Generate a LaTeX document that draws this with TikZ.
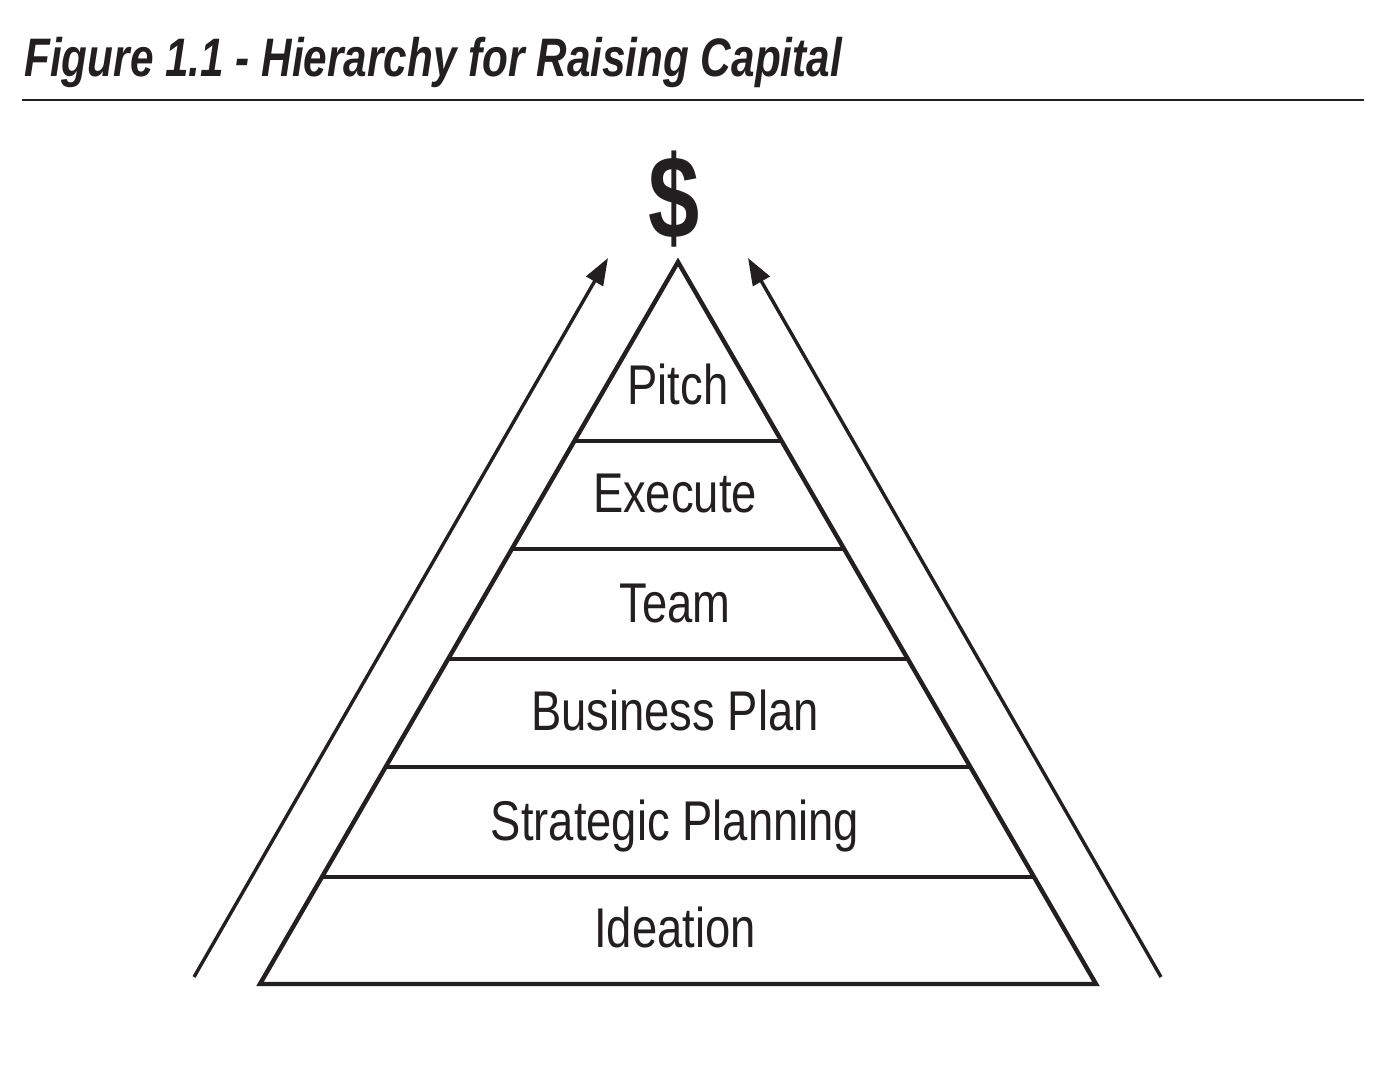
\documentclass[tikz,border=0pt]{standalone}
\usepackage{fontspec}
\setmainfont{Liberation Sans}
\newfontfamily\tierfont[FakeStretch=0.81]{Liberation Sans}
\newfontfamily\headfont[FakeStretch=0.78]{Liberation Sans}
\usetikzlibrary{arrows.meta,calc}
\definecolor{ink}{HTML}{231F20}
\tikzset{
  pyr/.style={draw=ink, line width=2.2pt, line join=miter},
  rung/.style={draw=ink, line width=2.2pt},
  rise/.style={draw=ink, line width=1.7pt, -{Triangle[length=13.5pt,width=9.5pt]}},
  tier/.style={font=\tierfont\fontsize{28}{30}\selectfont, text=ink, anchor=base, inner sep=0pt},
}
\begin{document}
\begin{tikzpicture}[x=0.5pt,y=-0.5pt]
	\useasboundingbox (0,0) rectangle (1388,1068);
	% title and rule
	\node[font=\headfont\bfseries\itshape\fontsize{27.1}{30}\selectfont, text=ink, anchor=base west, inner sep=0pt] (title) at (24,77) {Figure 1.1 - Hierarchy for Raising Capital};
	\coordinate (ruleL) at (22,100);
	\coordinate (ruleR) at (1364,100);
	\draw[ink, line width=1pt] (ruleL) -- (ruleR);
	% goal
	\node[font=\headfont\bfseries\fontsize{59}{60}\selectfont, text=ink, anchor=base, inner sep=0pt] (cash) at (674,239) {\$};
	% pyramid
	\coordinate (apex) at (678,262);
	\coordinate (bl) at (260,984);
	\coordinate (br) at (1096,984);
	\draw[pyr] (apex) -- (bl) -- (br) -- cycle;
	\foreach \y in {441,549,659,767,877}
		\draw[rung] ($(apex)!{(\y-262)/722}!(bl)$) -- ($(apex)!{(\y-262)/722}!(br)$);
	\foreach \x/\y/\txt [count=\i] in {678/441/Pitch,675/549/Execute,675/659/Team,675/767/Business Plan,675/877/Strategic Planning,675/984/Ideation}
		\node[tier] (tier\i) at (\x,\y-36) {\txt};
	% arrows
	\coordinate (lt) at (194,977);
	\coordinate (lh) at (608,258);
	\coordinate (rt) at (1161,977);
	\coordinate (rh) at (748,258);
	\draw[rise] (lt) -- (lh);
	\draw[rise] (rt) -- (rh);
\end{tikzpicture}
\end{document}
